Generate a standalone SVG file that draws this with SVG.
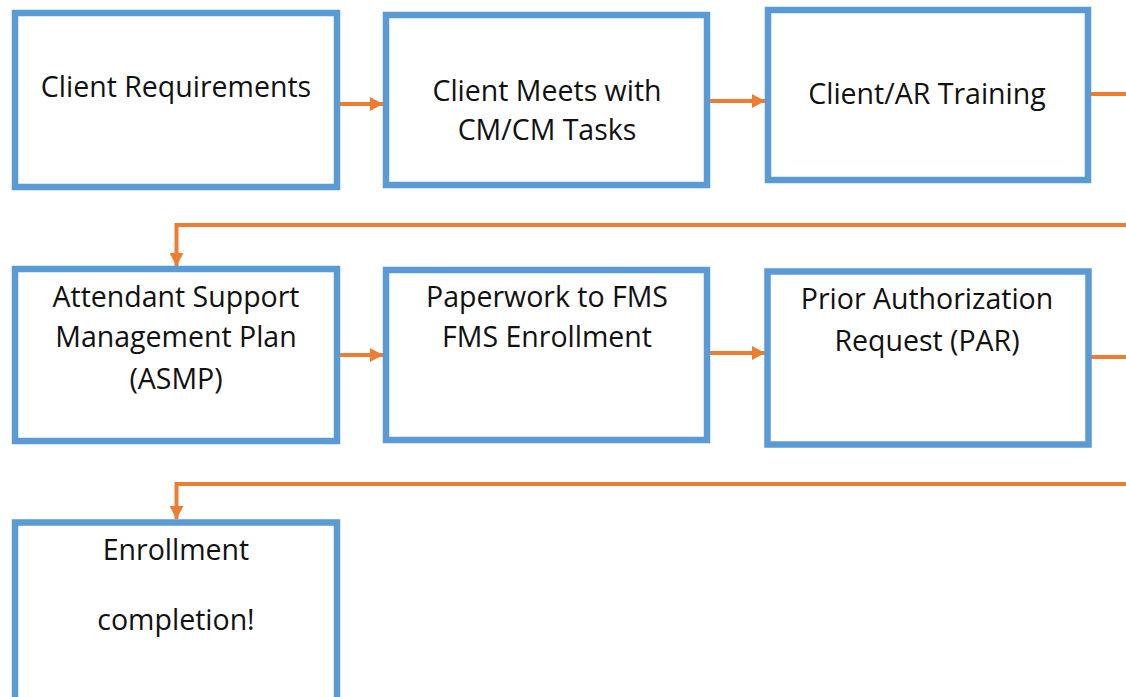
<svg xmlns="http://www.w3.org/2000/svg" width="1126" height="697" viewBox="0 0 1126 697">
<defs>
<style>
.box{fill:#fff;stroke:#5B9BD5;stroke-width:6.5}
.t{font-family:"Open Sans","Liberation Sans",sans-serif;font-size:28.5px;fill:#111;text-anchor:middle}
.c{fill:none;stroke:#ED7D31;stroke-width:4}
</style>
<marker id="ah" markerWidth="14" markerHeight="14" refX="13" refY="7" orient="auto" markerUnits="userSpaceOnUse">
<path d="M0,0 L13,7 L0,14 Z" fill="#ED7D31"/>
</marker>
</defs>
<rect width="1126" height="697" fill="#fff"/>
<g id="connectors">
<line class="c" x1="340" y1="104" x2="383" y2="104" marker-end="url(#ah)"/>
<line class="c" x1="710" y1="101" x2="765" y2="101" marker-end="url(#ah)"/>
<line class="c" x1="1091" y1="94" x2="1126" y2="94"/>
<polyline class="c" points="1126,225 176.5,225 176.5,266" marker-end="url(#ah)"/>
<line class="c" x1="340" y1="355" x2="383" y2="355" marker-end="url(#ah)"/>
<line class="c" x1="710" y1="353" x2="765" y2="353" marker-end="url(#ah)"/>
<line class="c" x1="1091" y1="357" x2="1126" y2="357"/>
<polyline class="c" points="1126,484 176.5,484 176.5,519" marker-end="url(#ah)"/>
</g>
<g id="n1"><rect class="box" x="15" y="13" width="322" height="174"/>
<text class="t" x="176" y="97">Client Requirements</text></g>
<g id="n2"><rect class="box" x="386" y="15" width="321" height="170"/>
<text class="t" x="547" y="101">Client Meets with</text><text class="t" x="547" y="140">CM/CM Tasks</text></g>
<g id="n3"><rect class="box" x="768" y="10" width="320" height="170"/>
<text class="t" x="927" y="104">Client/AR Training</text></g>
<g id="n4"><rect class="box" x="15" y="269" width="322" height="172"/>
<text class="t" x="176" y="307">Attendant Support</text><text class="t" x="176" y="347">Management Plan</text><text class="t" x="176" y="389">(ASMP)</text></g>
<g id="n5"><rect class="box" x="386" y="270" width="321" height="170"/>
<text class="t" x="547" y="307">Paperwork to FMS</text><text class="t" x="547" y="347">FMS Enrollment</text></g>
<g id="n6"><rect class="box" x="767.5" y="271.5" width="321" height="173"/>
<text class="t" x="927" y="309">Prior Authorization</text><text class="t" x="927" y="351">Request (PAR)</text></g>
<g id="n7"><rect class="box" x="15" y="522.5" width="322" height="190"/>
<text class="t" x="176" y="560">Enrollment</text><text class="t" x="176" y="630">completion!</text></g>
</svg>
